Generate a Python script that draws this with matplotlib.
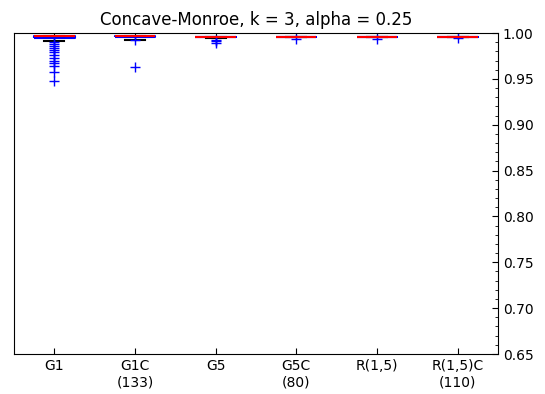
import numpy as np
import matplotlib
matplotlib.use("Agg")
import matplotlib.pyplot as plt

plt.rcParams['ytick.direction'] = 'in'
plt.rcParams['xtick.direction'] = 'in'

labels = ["G1", "G1C\n(133)", "G5", "G5C\n(80)", "R(1,5)", "R(1,5)C\n(110)"]
q1 = [0.9946, 0.9954, 0.9962, 0.9962, 0.9962, 0.9962]
med = [0.9965, 0.9965, 0.9962, 0.9962, 0.9962, 0.9962]
q3 = [0.9965, 0.9965, 0.9962, 0.9962, 0.9962, 0.9962]
whislo = [0.9917, 0.9928, 0.9946, 0.9962, 0.9962, 0.9962]
whishi = [0.9965, 0.9965, 0.9962, 0.9962, 0.9962, 0.9962]
fliers = [
    [0.990, 0.988, 0.986, 0.984, 0.982, 0.979, 0.976, 0.973, 0.970,
     0.967, 0.964, 0.9575, 0.9475],
    [0.9919, 0.9626],
    [0.9925, 0.991, 0.9895],
    [0.993],
    [0.993],
    [0.9945],
]

stats = []
for i in range(len(labels)):
    stats.append(dict(med=med[i], q1=q1[i], q3=q3[i], whislo=whislo[i],
                      whishi=whishi[i], fliers=fliers[i], label=labels[i]))

fig = plt.figure(figsize=(5.45, 3.94), dpi=100)
ax = fig.add_axes([0.0257, 0.1015, 0.888, 0.8147])

ax.bxp(stats, widths=0.5,
       boxprops=dict(color='b', linewidth=1.5, solid_capstyle='butt'),
       whiskerprops=dict(color='b', linestyle='--'),
       capprops=dict(color='k', linewidth=1.5),
       medianprops=dict(color='r', linewidth=1.5, solid_capstyle='butt'),
       flierprops=dict(marker='+', markeredgecolor='b', markersize=7,
                       markeredgewidth=1.0, linestyle='none'))

ax.set_ylim(0.65, 1.0)
ax.set_xlim(0.5, 6.5)
ax.set_yticks(np.arange(0.65, 1.001, 0.05))
ax.set_yticks(np.arange(0.65, 1.001, 0.01), minor=True)
ax.yaxis.tick_right()
ax.tick_params(axis='y', which='both', direction='in', left=False, right=True,
               labelsize=10)
ax.tick_params(axis='y', which='major', length=4)
ax.tick_params(axis='y', which='minor', length=2)
ax.tick_params(axis='x', direction='in', top=True, length=4, labelsize=10)
ax.set_title("Concave-Monroe, k = 3, alpha = 0.25", fontsize=12)

plt.savefig("out.png")
